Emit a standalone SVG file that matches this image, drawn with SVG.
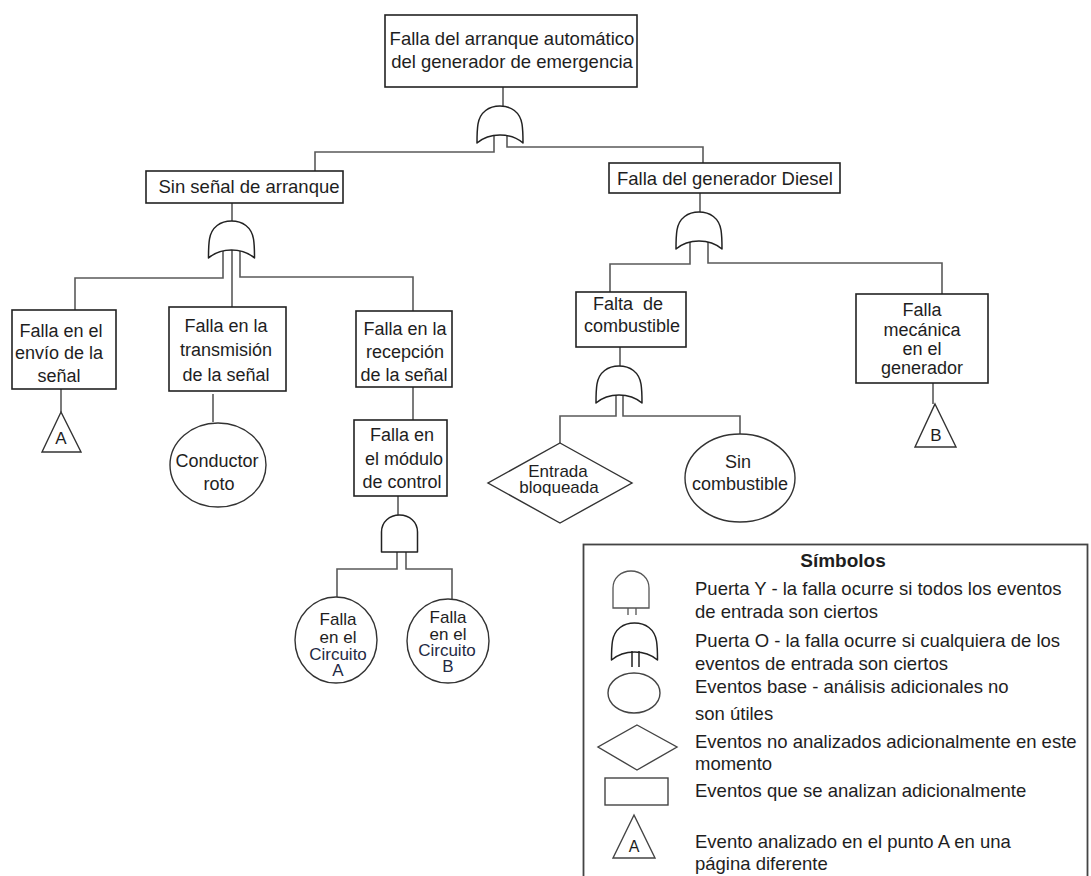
<svg xmlns="http://www.w3.org/2000/svg" xmlns:xlink="http://www.w3.org/1999/xlink" width="1091" height="876" viewBox="0 0 1091 876">
  <style>
    .box { fill: #fff; stroke: #222; stroke-width: 1.6; }
    .shape { fill: #fff; stroke: #333; stroke-width: 1.4; }
    .gate { fill: #fff; stroke: #222; stroke-width: 1.5; stroke-linejoin: round; }
    .lgate { fill: #fff; stroke: #555; stroke-width: 1.3; }
    .wire { fill: none; stroke: #5a5a5a; stroke-width: 1.6; }
    .t { font-family: "Liberation Sans", Arial, sans-serif; font-size: 18px; fill: #1e1e1e; text-anchor: middle; }
    .ts { font-family: "Liberation Sans", Arial, sans-serif; font-size: 17px; fill: #1e1e1e; text-anchor: middle; }
    .tl { font-family: "Liberation Sans", Arial, sans-serif; font-size: 18.5px; fill: #1e1e1e; text-anchor: middle; }
    .leg { font-family: "Liberation Sans", Arial, sans-serif; font-size: 18.5px; fill: #1e1e1e; }
    .head { font-family: "Liberation Sans", Arial, sans-serif; font-size: 19px; font-weight: bold; fill: #1e1e1e; text-anchor: middle; }
    .circ { fill: #1f2a44; }
  </style>
  <defs>
    <!-- OR gate: dome with concave base, origin at top centre -->
    <path id="orGate" class="gate" d="M-23,37 C-23,30 -23,24 -22,18 C-20,6 -11,0 0,0 C11,0 20,6 22,18 C23,24 23,30 23,37 C16,31 8,29 0,29 C-8,29 -16,31 -23,37 Z"/>
    <!-- AND gate: rounded top, flat base, origin at top centre -->
    <path id="andGate" d="M-18,37 V17 C-18,7 -10,0 0,0 C10,0 18,7 18,17 V37 Z"/>
  </defs>

  <rect width="1091" height="876" fill="#fff"/>

  <!-- connectors -->
  <g id="connectors" class="wire">
    <path d="M503,87 V106"/>
    <path d="M494,134 V152 H315 V171"/>
    <path d="M507,134 V147 H703 V163"/>
    <path d="M232,203 V221"/>
    <path d="M223,251 V278 H75 V310"/>
    <path d="M232,250 V307"/>
    <path d="M240,251 V277 H413 V311"/>
    <path d="M61,389 V412"/>
    <path d="M213,394 V422"/>
    <path d="M413,387 V420"/>
    <path d="M398,496 V515"/>
    <path d="M397,552 V569 H337 V597"/>
    <path d="M406,552 V569 H452 V599"/>
    <path d="M700,193 V212"/>
    <path d="M690,241 V264 H610 V292"/>
    <path d="M708,241 V263 H942 V294"/>
    <path d="M620,347 V366"/>
    <path d="M616,395 V416 H560 V443"/>
    <path d="M623,395 V416 H740 V434"/>
    <path d="M933,383 V404"/>
  </g>

  <!-- gates -->
  <g id="gate-top"><use xlink:href="#orGate" href="#orGate" x="500" y="106"/></g>
  <g id="gate-signal"><use xlink:href="#orGate" href="#orGate" x="231.5" y="221"/></g>
  <g id="gate-diesel"><use xlink:href="#orGate" href="#orGate" x="699" y="212"/></g>
  <g id="gate-fuel"><use xlink:href="#orGate" href="#orGate" x="619" y="366"/></g>
  <g id="gate-module"><use xlink:href="#andGate" href="#andGate" class="gate" x="399.5" y="515"/></g>

  <!-- events -->
  <g id="n-top">
    <rect class="box" x="385" y="15" width="252" height="72"/>
    <text class="tl" x="512" y="45">Falla del arranque automático</text>
    <text class="tl" x="512" y="68">del generador de emergencia</text>
  </g>
  <g id="n-signal">
    <rect class="box" x="146" y="171" width="197" height="32"/>
    <text class="tl" x="249" y="193">Sin señal de arranque</text>
  </g>
  <g id="n-diesel">
    <rect class="box" x="609" y="163" width="231" height="30"/>
    <text class="tl" x="725" y="185">Falla del generador Diesel</text>
  </g>
  <g id="n-send">
    <rect class="box" x="12" y="310" width="104" height="79"/>
    <text class="t" x="61" y="337">Falla en el</text>
    <text class="t" x="59" y="359">envío de la</text>
    <text class="t" x="59" y="382">señal</text>
  </g>
  <g id="n-send-ref">
    <path class="shape" d="M61,412 L81,452 L42,452 Z"/>
    <text class="t" x="61" y="444" style="font-size:17px">A</text>
  </g>
  <g id="n-transmit">
    <rect class="box" x="169" y="307" width="117" height="84"/>
    <text class="t" x="226" y="332">Falla en la</text>
    <text class="t" x="226" y="356">transmisión</text>
    <text class="t" x="226" y="381">de la señal</text>
  </g>
  <g id="n-conductor">
    <ellipse class="shape" cx="218" cy="465" rx="48" ry="42"/>
    <text class="t" x="217" y="467">Conductor</text>
    <text class="t" x="219" y="490">roto</text>
  </g>
  <g id="n-receive">
    <rect class="box" x="356" y="311" width="96" height="76"/>
    <text class="t" x="405" y="335">Falla en la</text>
    <text class="t" x="405" y="358">recepción</text>
    <text class="t" x="404" y="381">de la señal</text>
  </g>
  <g id="n-module">
    <rect class="box" x="354" y="420" width="93" height="76"/>
    <text class="t" x="402" y="441">Falla en</text>
    <text class="t" x="404" y="465">el módulo</text>
    <text class="t" x="402" y="488">de control</text>
  </g>
  <g id="n-circuit-a">
    <ellipse class="shape" cx="336" cy="640" rx="41" ry="43"/>
    <text class="ts" x="338" y="625">Falla</text>
    <text class="ts" x="338" y="643">en el</text>
    <text class="ts circ" x="338" y="660">Circuito</text>
    <text class="ts circ" x="338" y="676">A</text>
  </g>
  <g id="n-circuit-b">
    <ellipse class="shape" cx="448" cy="641" rx="41" ry="42"/>
    <text class="ts" x="448" y="623">Falla</text>
    <text class="ts" x="448" y="640">en el</text>
    <text class="ts circ" x="447" y="656">Circuito</text>
    <text class="ts circ" x="448" y="672">B</text>
  </g>
  <g id="n-fuel">
    <rect class="box" x="576" y="292" width="110" height="55"/>
    <text class="t" x="628" y="310" xml:space="preserve">Falta  de</text>
    <text class="t" x="632" y="332">combustible</text>
  </g>
  <g id="n-blocked">
    <path class="shape" d="M560,443 L632,483 L560,523 L488,483 Z"/>
    <text class="ts" x="558" y="477">Entrada</text>
    <text class="ts" x="559" y="493">bloqueada</text>
  </g>
  <g id="n-nofuel">
    <ellipse class="shape" cx="740" cy="478" rx="55" ry="44"/>
    <text class="t" x="738" y="468">Sin</text>
    <text class="t" x="740" y="490">combustible</text>
  </g>
  <g id="n-mech">
    <rect class="box" x="856" y="294" width="132" height="89"/>
    <text class="t" x="922" y="316">Falla</text>
    <text class="t" x="922" y="336">mecánica</text>
    <text class="t" x="922" y="355">en el</text>
    <text class="t" x="922" y="374">generador</text>
  </g>
  <g id="n-mech-ref">
    <path class="shape" d="M935,404 L956,447 L915,447 Z"/>
    <text class="t" x="936" y="441" style="font-size:17px">B</text>
  </g>

  <!-- symbol key -->
  <g id="legend">
    <rect x="583.5" y="544.5" width="504" height="340" fill="#fff" stroke="#444" stroke-width="1.8"/>
    <text class="head" x="843" y="567">Símbolos</text>
    <use xlink:href="#andGate" href="#andGate" class="lgate" x="631" y="571"/>
    <path d="M628,608 V615 M636,608 V615" stroke="#555" stroke-width="1.3"/>
    <text class="leg" x="695" y="595">Puerta Y - la falla ocurre si todos los eventos</text>
    <text class="leg" x="695" y="618">de entrada son ciertos</text>
    <use xlink:href="#orGate" href="#orGate" x="634.5" y="623"/>
    <path d="M632,651 V667 M639,651 V667" stroke="#222" stroke-width="1.5"/>
    <text class="leg" x="695" y="647">Puerta O - la falla ocurre si cualquiera de los</text>
    <text class="leg" x="695" y="670">eventos de entrada son ciertos</text>
    <ellipse cx="634" cy="693" rx="26" ry="20" fill="#fff" stroke="#444" stroke-width="1.4"/>
    <text class="leg" x="695" y="693">Eventos base - análisis adicionales no</text>
    <text class="leg" x="695" y="720">son útiles</text>
    <path d="M637,725 L677,747 L637,770 L598,747 Z" fill="#fff" stroke="#444" stroke-width="1.4"/>
    <text class="leg" x="695" y="748">Eventos no analizados adicionalmente en este</text>
    <text class="leg" x="695" y="770">momento</text>
    <rect x="605" y="778" width="63" height="27" fill="#fff" stroke="#444" stroke-width="1.4"/>
    <text class="leg" x="695" y="797">Eventos que se analizan adicionalmente</text>
    <path d="M634,815 L655,858 L613,858 Z" fill="#fff" stroke="#444" stroke-width="1.4"/>
    <text class="t" x="634" y="852" style="font-size:16px">A</text>
    <text class="leg" x="695" y="848">Evento analizado en el punto A en una</text>
    <text class="leg" x="695" y="870">página diferente</text>
  </g>
</svg>
